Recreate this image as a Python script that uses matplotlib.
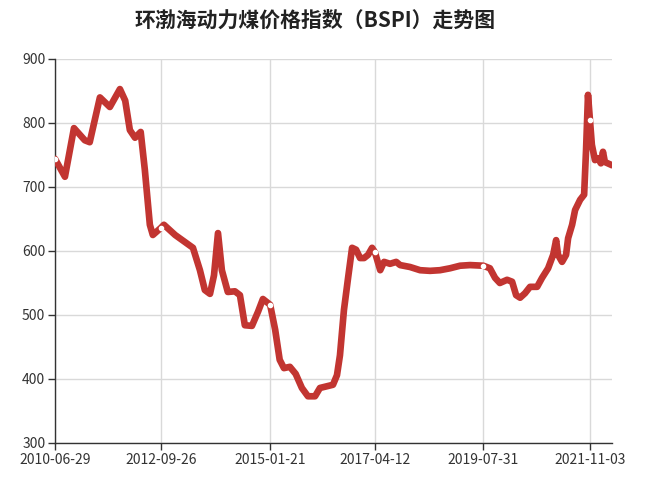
import matplotlib
matplotlib.use('Agg')
import matplotlib.pyplot as plt
import pandas as pd

plt.rcParams['font.family'] = ['Noto Sans CJK SC', 'DejaVu Sans']

# 数据
dates = [
    '2010-06-29', '2010-09-14', '2010-11-23', '2011-02-15', '2011-03-25', '2011-06-12',
    '2011-08-28', '2011-11-14', '2011-12-25', '2012-01-30', '2012-03-10', '2012-04-23',
    '2012-05-25', '2012-07-03', '2012-07-26', '2012-09-26', '2012-10-20', '2013-01-15',
    '2013-04-01', '2013-06-02', '2013-07-26', '2013-09-02', '2013-10-12', '2013-11-12',
    '2013-12-13', '2014-01-12', '2014-02-27', '2014-04-23', '2014-06-01', '2014-07-09',
    '2014-09-02', '2014-10-19', '2014-11-26', '2015-01-21', '2015-03-01', '2015-04-05',
    '2015-05-08', '2015-06-23', '2015-08-07', '2015-09-24', '2015-11-10', '2016-01-04',
    '2016-02-11', '2016-04-12', '2016-05-22', '2016-06-22', '2016-07-15', '2016-08-15',
    '2016-09-16', '2016-10-17', '2016-11-17', '2016-12-18', '2017-01-18', '2017-02-18',
    '2017-03-21', '2017-04-12', '2017-05-23', '2017-06-22', '2017-08-07', '2017-09-24',
    '2017-10-24', '2018-01-09', '2018-03-28', '2018-06-13', '2018-08-29', '2018-11-15',
    '2019-02-01', '2019-04-19', '2019-07-31', '2019-09-20', '2019-10-30', '2019-12-06',
    '2020-01-31', '2020-03-10', '2020-04-10', '2020-05-11', '2020-06-18', '2020-07-27',
    '2020-09-20', '2020-10-28', '2020-12-14', '2021-01-22', '2021-02-14', '2021-03-01',
    '2021-04-01', '2021-05-02', '2021-05-18', '2021-06-18', '2021-07-11', '2021-08-19',
    '2021-09-19', '2021-10-04', '2021-10-19', '2021-11-03', '2021-11-18', '2021-12-12',
    '2022-01-04', '2022-01-27', '2022-02-12', '2022-02-27', '2022-04-23',
]
bspi = [
    744, 716, 792, 773, 770, 840,
    825, 853, 835, 789, 777, 786,
    727, 641, 625, 636, 641, 625,
    614, 605, 570, 539, 533, 562,
    628, 570, 536, 537, 531, 484,
    483, 505, 525, 516, 477, 430,
    417, 419, 408, 386, 373, 373,
    386, 389, 391, 406, 437, 508,
    558, 605, 602, 589, 589, 594,
    605, 598, 570, 583, 580, 583,
    578, 575, 570, 569, 570, 573,
    577, 578, 577, 573, 558, 550,
    555, 552, 531, 527, 534, 544,
    544, 558, 573, 594, 617, 594,
    583, 594, 620, 641, 664, 680,
    688, 758, 844, 805, 766, 742,
    745, 737, 755, 739, 734,
]
tick_labels = ['2010-06-29', '2012-09-26', '2015-01-21', '2017-04-12', '2019-07-31', '2021-11-03']

x = pd.to_datetime(dates)
ticks = pd.to_datetime(tick_labels)
mark_idx = [dates.index(t) for t in tick_labels]

fig = plt.figure(figsize=(6.56, 4.8), dpi=100)
ax = fig.add_axes([55 / 656, 1 - 443 / 480, 557 / 656, 384 / 480])

ax.plot(x, bspi, color='#c23531', linewidth=4.8, solid_joinstyle='round',
        solid_capstyle='round', marker='o', markevery=mark_idx, markersize=3,
        markerfacecolor='white', markeredgecolor='white', zorder=3)

ax.set_ylim(300, 900)
ax.set_yticks(range(300, 901, 100))
ax.set_xlim(x[0], x[-1])
ax.set_xticks(ticks)
ax.set_xticklabels(tick_labels)

ax.grid(True, color='#d9d9d9', linewidth=1)
ax.set_axisbelow(True)
for s in ['top', 'right']:
    ax.spines[s].set_visible(False)
for s in ['left', 'bottom']:
    ax.spines[s].set_color('#333333')
    ax.spines[s].set_linewidth(1)
ax.tick_params(axis='both', colors='#333333', labelsize=10, length=5, width=1, pad=2)

fig.text(0.48, 0.958, '环渤海动力煤价格指数（BSPI）走势图', ha='center', va='center',
         fontsize=15, fontweight='bold', color='#222222')

fig.savefig('out.png', dpi=100)
